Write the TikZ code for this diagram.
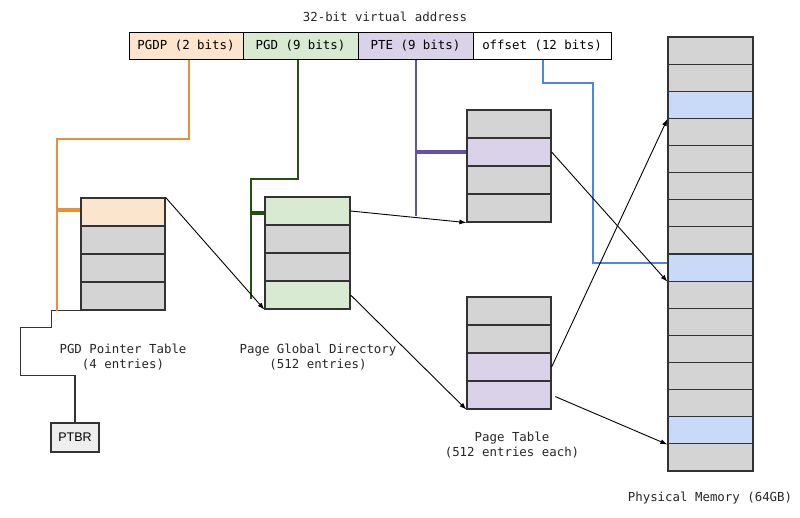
\documentclass[tikz,border=0pt]{standalone}
\usepackage{fontspec}
\setmonofont{DejaVu Sans Mono}
\setsansfont{Liberation Sans}
\usetikzlibrary{arrows.meta}
\definecolor{pgdpfill}{HTML}{FCE5CD}
\definecolor{pgdfill}{HTML}{D9EAD3}
\definecolor{ptefill}{HTML}{D9D2E9}
\definecolor{memblue}{HTML}{C9DAF8}
\definecolor{cellgray}{HTML}{D4D4D4}
\definecolor{ptbrfill}{HTML}{EEEEEE}
\definecolor{bordergray}{HTML}{333333}
\definecolor{pgdpline}{HTML}{E69138}
\definecolor{pgdline}{HTML}{274E13}
\definecolor{pteline}{HTML}{674EA7}
\definecolor{offline}{HTML}{4A86E8}

\begin{document}
\begin{tikzpicture}[
  x=1pt, y=-1pt,
  field/.style={draw=black,line width=1pt,minimum height=27pt,inner sep=0pt,font=\ttfamily\fontsize{12.4}{14}\selectfont},
  cell/.style={draw=bordergray,line width=1.2pt,fill=cellgray,minimum width=84pt,minimum height=28pt,inner sep=0pt},
  lbl/.style={font=\ttfamily\fontsize{12.4}{15}\selectfont,align=center,text=black!85},
  ptr/.style={-{Latex[length=7pt,width=5pt]},line width=0.9pt},
  feed/.style={line width=2pt},
  stub/.style={line width=4.5pt}
]
  \useasboundingbox (0,0) rectangle (800,517);

  \node[lbl] (title) at (385,17) {32-bit virtual address};
  \node[field,fill=pgdpfill,minimum width=114pt] (a1) at (186,45.5) {PGDP (2 bits)};
  \node[field,fill=pgdfill,minimum width=115pt] (a2) at (300.5,45.5) {PGD (9 bits)};
  \node[field,fill=ptefill,minimum width=115pt] (a3) at (415.5,45.5) {PTE (9 bits)};
  \node[field,fill=white,minimum width=138pt] (a4) at (542,45.5) {offset (12 bits)};

  \node[cell,fill=pgdpfill] (p1) at (123,212) {};
  \node[cell] (p2) at (123,240) {};
  \node[cell] (p3) at (123,268) {};
  \node[cell] (p4) at (123,296) {};
  \node[lbl] (plabel) at (123,357) {PGD Pointer Table\\(4 entries)};

  \node[cell,fill=pgdfill,minimum width=85pt] (g1) at (307.5,211) {};
  \node[cell,minimum width=85pt] (g2) at (307.5,239) {};
  \node[cell,minimum width=85pt] (g3) at (307.5,267) {};
  \node[cell,fill=pgdfill,minimum width=85pt] (g4) at (307.5,295) {};
  \node[lbl] (glabel) at (318,357) {Page Global Directory\\(512 entries)};

  \node[cell] (t1) at (509,124) {};
  \node[cell,fill=ptefill] (t2) at (509,152) {};
  \node[cell] (t3) at (509,180) {};
  \node[cell] (t4) at (509,208) {};

  \node[cell] (u1) at (509,311) {};
  \node[cell] (u2) at (509,339) {};
  \node[cell,fill=ptefill] (u3) at (509,367) {};
  \node[cell,fill=ptefill] (u4) at (509,395) {};
  \node[lbl] (tlabel) at (512,445) {Page Table\\(512 entries each)};

  \foreach \i/\c in {1/cellgray,2/cellgray,3/memblue,4/cellgray,5/cellgray,6/cellgray,7/cellgray,8/cellgray,
                     9/memblue,10/cellgray,11/cellgray,12/cellgray,13/cellgray,14/cellgray,15/memblue,16/cellgray}
    \node[cell,fill=\c,minimum width=85pt,minimum height=27.125pt] (m\i) at (710.5,{23.44+27.125*\i}) {};
  \node[lbl] (mlabel) at (710,498) {Physical Memory (64GB)};

  \node[draw=bordergray,line width=1.2pt,fill=ptbrfill,minimum width=48pt,minimum height=29pt,inner sep=0pt,font=\sffamily\fontsize{12.5}{14}\selectfont] (ptbr) at (75,437.5) {PTBR};

  \draw[bordergray,line width=1.3pt] (p4.south west) -- ++(-29,0) -- ++(0,17) -- ++(-31,0) -- ++(0,48) -| (ptbr.north);

  \draw[pgdpline,feed] ([xshift=3pt]a1.south) -- ++(0,79) -| ([xshift=-23pt]p4.south west);
  \draw[pgdpline,stub] ([yshift=2pt]p1.west) -- ++(-23,0);

  \draw[pgdline,feed] ([xshift=-3pt]a2.south) -- ++(0,119) -| ([xshift=-13pt,yshift=11pt]g4.south west);
  \draw[pgdline,stub] ([yshift=-2pt]g1.west) -- ++(-13,0);

  \draw[pteline,feed] (a3.south) -- ++(0,156);
  \draw[pteline,stub] (t2.west) -- (t2.west -| a3.south);

  \draw[offline,feed] ([xshift=1pt]a4.south) -- ++(0,23) -| ([xshift=-74pt,yshift=5pt]m9.west) -- ([yshift=5pt]m9.west);

  \draw[ptr] (p1.north east) -- (g4.south west);
  \draw[ptr] (g1.east) -- (t4.south west);
  \draw[ptr] (g4.east) -- (u4.south west);
  \draw[ptr] (t2.east) -- (m9.south west);
  \draw[ptr] (u3.east) -- (m3.south west);
  \draw[ptr,shorten <=4pt] (u4.east) -- (m15.south west);
\end{tikzpicture}
\end{document}
